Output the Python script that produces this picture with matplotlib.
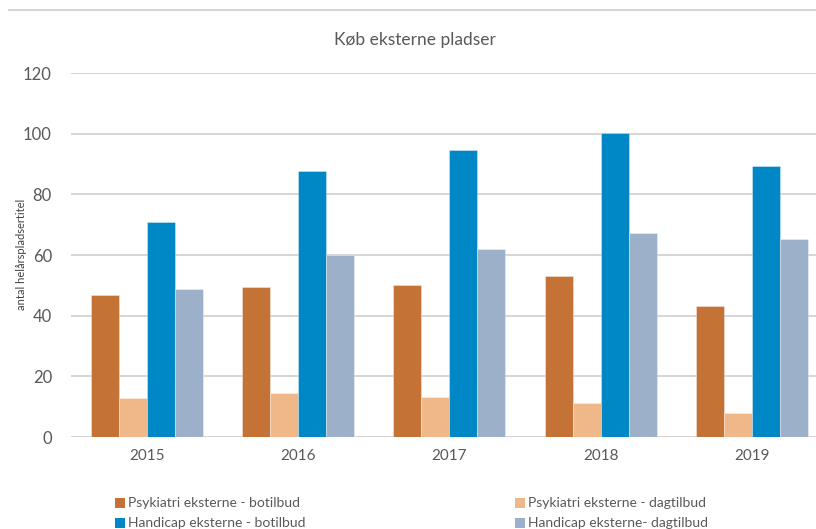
import matplotlib
matplotlib.use("Agg")
import matplotlib.pyplot as plt
from matplotlib.patches import Rectangle
from matplotlib.lines import Line2D
import numpy as np

years = ["2015", "2016", "2017", "2018", "2019"]
psyk_bo = [46.8, 49.5, 50.0, 53.1, 43.2]
psyk_dag = [12.7, 14.6, 13.2, 11.1, 8.0]
hand_bo = [70.8, 87.8, 94.6, 100.3, 89.3]
hand_dag = [48.9, 60.0, 62.0, 67.1, 65.2]
series_names = ["Psykiatri eksterne - botilbud", "Psykiatri eksterne - dagtilbud",
                "Handicap eksterne - botilbud", "Handicap eksterne- dagtilbud"]
colors = ["#C57237", "#F0B788", "#0087C5", "#9DB0CA"]
yticks = [0, 20, 40, 60, 80, 100, 120]

plt.rcParams['font.family'] = ['Lato', 'DejaVu Sans']
W, H = 816, 529
fig = plt.figure(figsize=(W / 100, H / 100), dpi=100)
ax = fig.add_axes([71.4 / W, 1 - 437 / H, (W - 71.4) / W, 364 / H])

x = np.arange(len(years))
bw = 0.185
data = [psyk_bo, psyk_dag, hand_bo, hand_dag]
for i, (vals, c) in enumerate(zip(data, colors)):
    ax.bar(x + (i - 1.5) * bw, vals, width=bw, color=c, zorder=3,
           edgecolor=(1, 1, 1, 0.5), linewidth=0.5)

ax.set_xlim(-0.5, -0.5 + (W - 71.4) / 151.2)
ax.set_ylim(0, 120)
ax.set_yticks(yticks)
ax.set_yticklabels([str(t) for t in yticks])
ax.set_xticks(x)
ax.set_xticklabels(years)
ax.yaxis.grid(True, color="#D9D4D2", linewidth=1.4, zorder=0)
ax.set_axisbelow(True)
for s in ax.spines.values():
    s.set_visible(False)
ax.tick_params(axis='x', length=0, labelsize=11, labelcolor="#595959", pad=9)
ax.tick_params(axis='y', length=0, labelsize=12, labelcolor="#595959", pad=14)

fig.text(415 / W, 1 - 40 / H, "Køb eksterne pladser", ha='center', va='center',
         fontsize=12.5, color="#595959")
fig.text(21.5 / W, 1 - 254 / H, "antal helårspladsertitel", rotation=90,
         ha='center', va='center', fontsize=8, color="#404040")

# top frame line
fig.add_artist(Line2D([9 / W, 1], [1 - 9.5 / H, 1 - 9.5 / H], color="#D9D4D2",
                      linewidth=1.5, transform=fig.transFigure))

# legend
pos = [(115, 503), (515, 503), (115, 523), (515, 523)]
for (px, py), name, c in zip(pos, series_names, colors):
    fig.add_artist(Rectangle((px / W, 1 - (py + 5) / H), 10 / W, 10 / H,
                             facecolor=c, edgecolor='none', transform=fig.transFigure))
    fig.text((px + 13) / W, 1 - py / H, name, ha='left', va='center',
             fontsize=10, color="#595959")

fig.savefig("out.png", dpi=100)
